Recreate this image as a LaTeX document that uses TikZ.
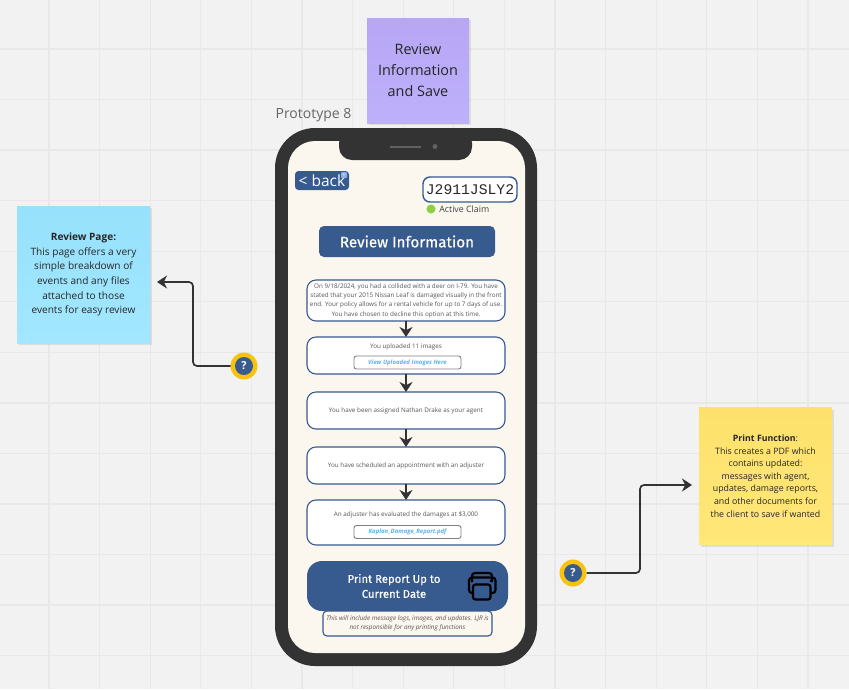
\documentclass[tikz,border=0pt]{standalone}
\usepackage{fontspec}
\setmainfont{Open Sans}
\newfontfamily\idfont{Liberation Mono}
\newfontfamily\btnfont[RawFeature={embolden=0.5}]{Fira Sans}
\usetikzlibrary{positioning, arrows.meta, shadows}
\definecolor{boardGray}{HTML}{F2F2F2}
\definecolor{gridGray}{HTML}{E8E8E8}
\definecolor{phoneDark}{HTML}{333333}
\definecolor{phoneCream}{HTML}{FBF6EE}
\definecolor{claimBlue}{HTML}{375A8F}
\definecolor{plusBlue}{HTML}{8FB0E0}
\definecolor{linkBlue}{HTML}{5CB0F0}
\definecolor{bodyGray}{HTML}{555555}
\definecolor{helpYellow}{HTML}{F9C20F}
\definecolor{activeGreen}{HTML}{8CD040}
\definecolor{noteBlueTop}{HTML}{97E1FC}
\definecolor{noteBlueEnd}{HTML}{A2E7FF}
\definecolor{noteYellowTop}{HTML}{FDE16C}
\definecolor{noteYellowEnd}{HTML}{FFE778}
\definecolor{notePurpleTop}{HTML}{B6A6F3}
\definecolor{notePurpleEnd}{HTML}{BFB0FC}
\newcommand{\px}[2]{\fontsize{#1}{#2}\selectfont}

\begin{document}
\begin{tikzpicture}[
    x=1pt, y=-1pt,
    >=Stealth,
    % --- stickies ---
    sticky/.style={rectangle, minimum width=133pt, minimum height=137pt, inner sep=0pt, outer sep=0pt,
                   align=center, text=black!85, font=\px{10.1}{14.7},
                   drop shadow={shadow xshift=1.5pt, shadow yshift=-2pt, opacity=0.18}},
    % --- phone content ---
    stepbox/.style={draw=claimBlue, line width=1.1pt, fill=white, rounded corners=9pt, minimum width=198pt,
                    inner sep=0pt, outer sep=0pt, align=center, text=bodyGray, font=\px{6.3}{9.4}},
    filebutton/.style={draw=black!50, line width=0.9pt, fill=white, rounded corners=2.5pt, minimum width=107pt,
                       minimum height=13pt, inner sep=0pt, outer sep=0pt, text=linkBlue,
                       font=\bfseries\itshape\px{6}{7}},
    solidbutton/.style={fill=claimBlue, inner sep=0pt, outer sep=0pt, align=center, text=white},
    flow/.style={line width=2.6pt, phoneDark, -{Stealth[length=10pt, width=13pt]}},
    pointer/.style={line width=1.7pt, phoneDark, rounded corners=4pt, -{Stealth[length=10pt, width=13pt]}},
    helpring/.style={circle, fill=helpYellow, minimum size=27pt, inner sep=0pt, outer sep=0pt},
    helpdot/.style={circle, fill=claimBlue, minimum size=18pt, inner sep=0pt, text=white, font=\bfseries\px{11}{12}}
]

% ====== board ======
\fill[boardGray] (0,0) rectangle (849,689);
\useasboundingbox (0,0) rectangle (849,689);
\foreach \k in {0,...,15} {
    \draw[gridGray, line width=1.3pt] ({49+50.6*\k},0) -- ({49+50.6*\k},689);
}
\foreach \k in {0,...,12} {
    \draw[gridGray, line width=1.3pt] (0,{49+50.55*\k}) -- (849,{49+50.55*\k});
}

% ====== stickies ======
\node[sticky, top color=noteBlueTop, bottom color=noteBlueEnd] (ReviewNote) at (83.5,274.5)
    {\textbf{Review Page:}\\This page offers a very\\simple breakdown of\\events and any files\\attached to those\\events for easy review};
\node[sticky, top color=noteYellowTop, bottom color=noteYellowEnd, font=\px{8.8}{12.6}] (PrintNote) at (765.5,476)
    {\textbf{Print Function}:\\This creates a PDF which\\contains updated:\\messages with agent,\\updates, damage reports,\\and other documents for\\the client to save if wanted};
\node[sticky, top color=notePurpleTop, bottom color=notePurpleEnd, minimum width=102pt, minimum height=105pt,
      font=\px{14.4}{20.8}] (TitleNote) at (418,70.5)
    {Review\\Information\\and Save};
\node[text=black!60, font=\px{14}{16}, inner sep=0pt] (ProtoLabel) at (313.5,115) {Prototype 8};

% ====== phone ======
\fill[phoneDark, rounded corners=40pt] (275,128) rectangle (537,666);
\fill[phoneCream, rounded corners=27pt] (288,141) rectangle (525,653);
\fill[phoneDark, rounded corners=13pt] (339,130) rectangle (472,160);
\fill[black!62] (390,145.5) rectangle (421,147.5);
\fill[black!62] (435,146.5) circle (2.5);

% ====== header ======
\node[solidbutton, rounded corners=3.5pt, minimum width=54pt, minimum height=19pt, font=\px{15.5}{18}] (BackBtn) at (322,180.5) {< back};
\node[fill=plusBlue, rounded corners=1pt, minimum size=6pt, inner sep=0pt, text=white, font=\px{5}{5}] (BackPlus) at (344,175) {+};
\node[draw=claimBlue, line width=1.4pt, fill=white, rounded corners=7pt, minimum width=94pt, minimum height=25pt,
      inner sep=0pt, outer sep=0pt, text=black!85, font=\idfont\px{14.7}{17}] (ClaimId) at (470,189.5) {J2911JSLY2};
\node[circle, fill=activeGreen, minimum size=9pt, inner sep=0pt] (ActiveDot) at (431,209) {};
\node[right=3.5pt of ActiveDot, inner sep=0pt, text=black!75, font=\px{8.8}{10}] (ActiveLabel) {Active Claim};
\node[solidbutton, rounded corners=5pt, minimum width=176pt, minimum height=31pt, font=\btnfont\px{15.2}{16}] (ReviewBtn) at (407,241.5) {Review Information};

% ====== flow boxes ======
\node[stepbox, minimum height=41pt] (EventBox) at (406,300.5)
    {On 9/18/2024, you had a collided with a deer on I-79. You have\\stated that your 2015 Nissan Leaf is damaged visually in the front\\end. Your policy allows for a rental vehicle for up to 7 days of use.\\You have chosen to decline this option at this time.};
\node[stepbox, minimum height=37pt, below=16pt of EventBox] (ImagesBox) {};
\node[stepbox, minimum height=37pt, below=18pt of ImagesBox] (AgentBox) {You have been assigned Nathan Drake as your agent};
\node[stepbox, minimum height=37pt, below=18pt of AgentBox] (AdjusterBox) {You have scheduled an appointment with an adjuster};
\node[stepbox, minimum height=45pt, below=16pt of AdjusterBox] (DamageBox) {};

\node[inner sep=0pt, text=bodyGray, font=\px{6.3}{8}] (ImagesText) at (406,346.5) {You uploaded 11 images};
\node[filebutton] (ImagesBtn) at (407.5,362.5) {View Uploaded Images Here};
\node[inner sep=0pt, text=bodyGray, font=\px{6.3}{8}] (DamageText) at (406,514.5) {An adjuster has evaluated the damages at \$3,000};
\node[filebutton] (ReportBtn) at (407.5,532) {Kaplan\_Damage\_Report.pdf};

\draw[flow] (EventBox) -- (ImagesBox);
\draw[flow] (ImagesBox) -- (AgentBox);
\draw[flow] (AgentBox) -- (AdjusterBox);
\draw[flow] (AdjusterBox) -- (DamageBox);

% ====== print button ======
\node[solidbutton, rounded corners=15pt, minimum width=201pt, minimum height=50pt] (PrintBtn) at (407.5,586) {};
\node[inner sep=0pt, align=center, text=white, font=\btnfont\px{11.3}{15}] (PrintText) at (394,586) {Print Report Up to\\Current Date};
\draw[black, line width=2.2pt, rounded corners=3pt] (472,582) -- (472,573) -- (492,573) -- (492,582);
\draw[black, line width=2.2pt, rounded corners=3pt] (472.5,593) -- (469,593) -- (469,577.5) -- (495.5,577.5) -- (495.5,593) -- (490.5,593);
\draw[black, line width=2.2pt, fill=claimBlue, rounded corners=2.5pt] (473,584.5) rectangle (490.5,599.5);
\fill[black] (491,581) circle (1.3);

\node[draw=claimBlue, line width=1.1pt, fill=phoneCream, rounded corners=4pt, minimum width=169pt, minimum height=25pt,
      inner sep=0pt, outer sep=0pt, align=center, text=bodyGray, font=\itshape\px{6.35}{8.4}] (PrintInfo) at (407.5,623.5)
    {This will include message logs, images, and updates. LJR is\\not responsible for any printing functions};

% ====== help markers ======
\node[helpring] (HelpLeft) at (244,366) {};
\node[helpdot] (HelpLeftDot) at (HelpLeft.center) {?};
\node[helpring] (HelpRight) at (573,573) {};
\node[helpdot] (HelpRightDot) at (HelpRight.center) {?};

\coordinate (ReviewTip) at (157,282);
\coordinate (PrintTip) at (692,485);
\draw[pointer] (HelpLeft) -- (193,366) -- (193,282) -- (ReviewTip);
\draw[pointer] (HelpRight) -- (640,573) -- (640,485) -- (PrintTip);

\end{tikzpicture}
\end{document}
